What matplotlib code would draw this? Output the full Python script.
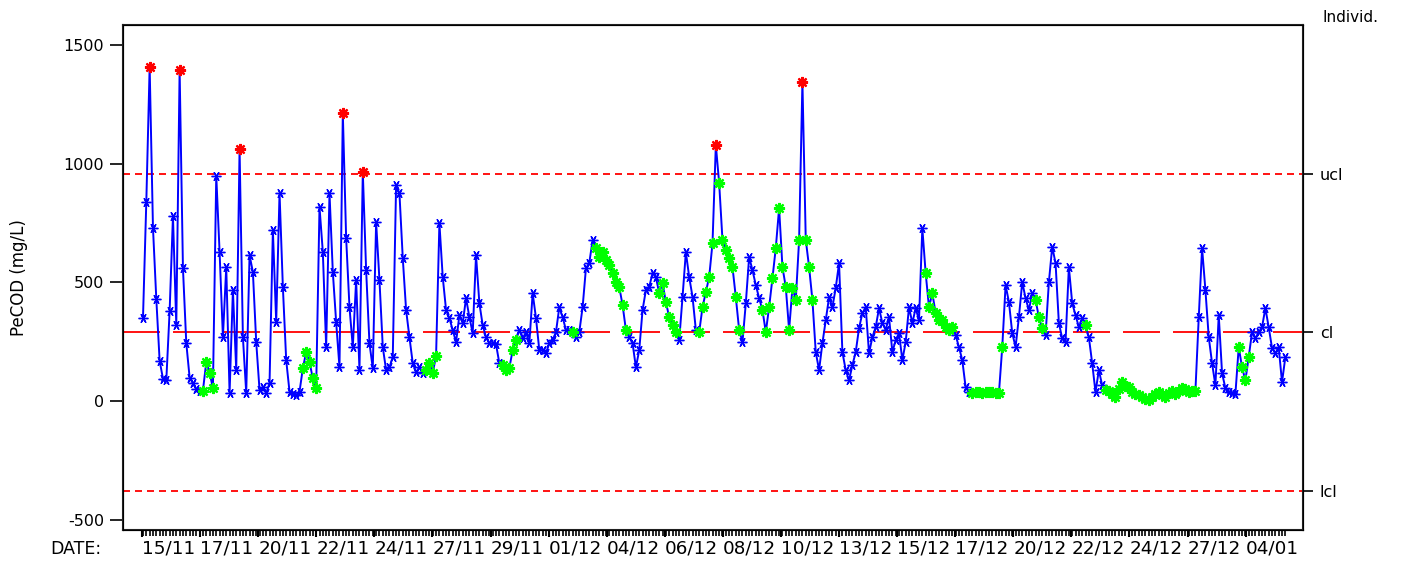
import numpy as np
import matplotlib
matplotlib.use("Agg")
import matplotlib.pyplot as plt

# PeCOD individuals chart (mg/L)
pecod = [
    350, 840, 1408, 730, 430, 170, 95, 88, 380, 780, 320, 1395, 560, 245, 100,
    75, 50, 42, 45, 165, 120, 55, 950, 628, 270, 565, 34, 468, 130, 1062,
    270, 35, 615, 544, 249, 46, 59, 34, 76, 720, 333, 876, 481, 173, 40,
    30, 25, 40, 139, 207, 164, 97, 55, 818, 628, 228, 876, 544, 333, 143,
    1213, 687, 396, 228, 510, 131, 965, 552, 244, 139, 754, 510, 228, 131, 143,
    186, 910, 876, 603, 384, 270, 160, 122, 143, 118, 130, 160, 120, 190, 750,
    523, 384, 350, 300, 249, 362, 329, 434, 354, 287, 615, 413, 320, 270, 244,
    244, 240, 160, 152, 131, 140, 215, 257, 300, 265, 291, 244, 455, 350, 215,
    215, 202, 244, 257, 291, 396, 354, 300, 300, 291, 270, 291, 396, 560, 582,
    678, 645, 607, 628, 594, 573, 540, 502, 481, 405, 300, 270, 244, 143, 215,
    384, 468, 481, 540, 523, 455, 497, 418, 354, 320, 291, 257, 438, 628, 523,
    440, 300, 291, 396, 460, 523, 665, 1079, 918, 678, 636, 603, 565, 438, 300,
    249, 413, 607, 552, 489, 434, 384, 291, 396, 518, 645, 813, 565, 481, 300,
    477, 426, 678, 1345, 680, 565, 426, 207, 131, 244, 341, 438, 396, 477, 582,
    207, 131, 88, 152, 207, 308, 371, 396, 202, 270, 312, 392, 329, 300, 354,
    207, 257, 287, 173, 249, 396, 329, 392, 341, 729, 540, 396, 455, 371, 341,
    341, 312, 300, 312, 278, 228, 173, 59, 38, 36, 40, 38, 35, 38, 40,
    38, 35, 34, 228, 489, 418, 287, 228, 354, 502, 434, 384, 455, 426, 354,
    308, 278, 502, 650, 582, 329, 265, 249, 565, 413, 362, 312, 350, 320, 270,
    160, 38, 131, 67, 46, 42, 30, 17, 50, 80, 65, 59, 40, 30, 25,
    17, 10, 4, 20, 30, 38, 25, 20, 35, 42, 30, 45, 55, 50, 40,
    42, 45, 354, 645, 468, 270, 160, 67, 362, 118, 55, 38, 34, 30, 228,
    143, 88, 186, 291, 265, 291, 312, 392, 312, 224, 202, 228, 80, 186,
]
date_labels = ["15/11", "17/11", "20/11", "22/11", "24/11", "27/11", "29/11",
               "01/12", "04/12", "06/12", "08/12", "10/12", "13/12", "15/12",
               "17/12", "20/12", "22/12", "24/12", "27/12", "04/01"]
CL, UCL, LCL = 290, 956, -376
RUN = 6

y = np.array(pecod, dtype=float)
n = len(y)
x = np.arange(n)

# points past UCL -> red, long runs on one side of CL -> green
above = y > UCL
side = np.sign(y - CL)
run_flag = np.zeros(n, dtype=bool)
count = 0
for i in range(n):
    count = count + 1 if i > 0 and side[i] == side[i - 1] else 1
    if count >= RUN:
        run_flag[i] = True
green = run_flag & ~above
blue = ~above & ~green

fig = plt.figure(figsize=(14.14, 5.61), dpi=100)
ax = fig.add_axes([123/1414, 31/561, 1180/1414, 505/561])

px = 0.72  # points per pixel
ax.axhline(UCL, color="#FF0000", lw=1.3, dashes=(7*px/1.3, 5*px/1.3))
ax.axhline(LCL, color="#FF0000", lw=1.3, dashes=(7*px/1.3, 5*px/1.3))
ax.axhline(CL, color="#FF0000", lw=1.3, dashes=(37*px/1.3, 13*px/1.3))

ax.plot(x, y, color="#0000FF", lw=1.4, zorder=3)
ax.plot(x[blue], y[blue], ls="none", marker=(6, 2, 90), ms=7, mew=1.0,
        color="#0000FF", zorder=4)
ax.plot(x[green], y[green], ls="none", marker=(8, 2, 0), ms=8, mew=1.6,
        color="#00FF00", zorder=5)
ax.plot(x[above], y[above], ls="none", marker=(8, 2, 0), ms=8, mew=1.6,
        color="#FF0000", zorder=5)

ax.set_xlim(-6, 348.3)
ax.set_ylim(-542, 1584)
ax.set_yticks([1500, 1000, 500, 0, -500])
ax.set_yticklabels(["1500", "1000", "500", "0", "-500"], fontsize=11.5)
ax.tick_params(axis="y", direction="out", length=9.5, width=1.2, pad=4)
ax.set_ylabel("PeCOD (mg/L)", fontsize=12, labelpad=26)

step = (n - 1) / 342 * 17.39
major = [k * step - 0.3 for k in range(len(date_labels))]
ax.set_xticks(major)
ax.set_xticklabels(date_labels, fontsize=13.2, ha="left")
ax.set_xticks(x, minor=True)
ax.tick_params(axis="x", which="major", direction="out", length=5, width=1.5, pad=2)
ax.tick_params(axis="x", which="minor", direction="out", length=4, width=1.2)
fig.text(50/1414, 1 - 549/561, "DATE:", fontsize=12.5, ha="left", va="center")

for s in ax.spines.values():
    s.set_linewidth(1.5)
    s.set_color("#222222")

ax2 = ax.twinx()
ax2.set_ylim(ax.get_ylim())
ax2.set_yticks([UCL, CL, LCL])
ax2.set_yticklabels(["ucl", "cl", "lcl"], fontsize=11.5)
ax2.tick_params(axis="y", direction="out", length=7, width=1.2, pad=5)

fig.text(1322/1414, 1 - 18/561, "Individ.", fontsize=11, ha="left", va="center")

fig.savefig("out.png", dpi=100)
